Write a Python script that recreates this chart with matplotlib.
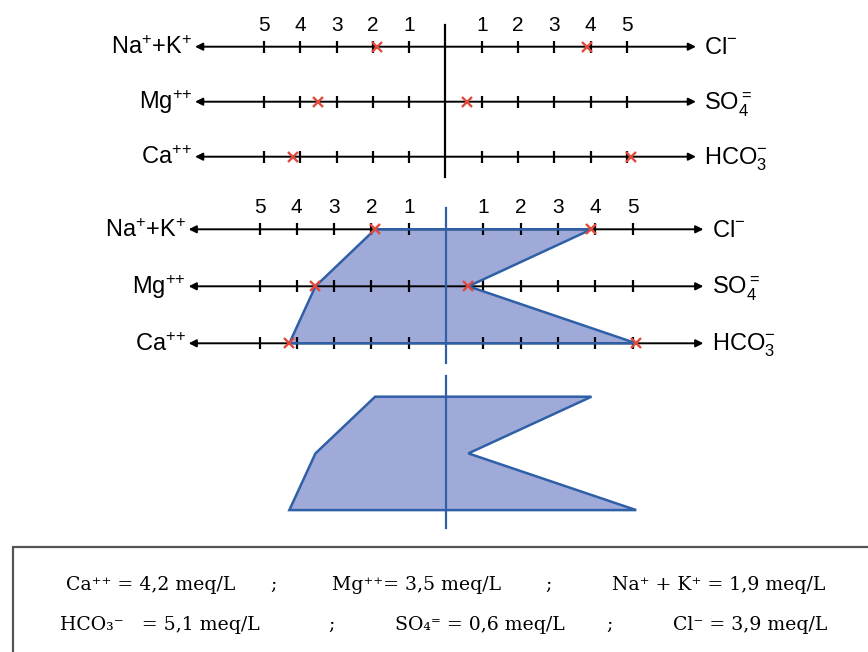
import numpy as np
import matplotlib.pyplot as plt
from matplotlib.patches import Rectangle

plt.rcParams['font.family'] = 'Liberation Sans'
plt.rcParams['mathtext.fontset'] = 'custom'
plt.rcParams['mathtext.rm'] = 'Liberation Sans'
plt.rcParams['mathtext.it'] = 'Liberation Sans:italic'
plt.rcParams['mathtext.bf'] = 'Liberation Sans:bold'
plt.rcParams['mathtext.sf'] = 'Liberation Sans'

# Ion concentrations (meq/L); rows top to bottom
cation_labels = [r'Na$^{+}$+K$^{+}$', r'Mg$^{+\mathrm{+}}$', r'Ca$^{+\mathrm{+}}$']
anion_labels = [r'Cl$^{-}$', r'SO$_{4}^{=}$', r'HCO$_{3}^{-}$']
cations = np.array([1.9, 3.5, 4.2])   # Na+K, Mg, Ca
anions = np.array([3.9, 0.6, 5.1])    # Cl, SO4, HCO3
scale_ticks = np.array([1, 2, 3, 4, 5])

# names used in the summary box
cation_names = ['Na⁺ + K⁺', 'Mg⁺⁺', 'Ca⁺⁺']
anion_names = ['Cl⁻', 'SO₄⁼', 'HCO₃⁻']

W, H = 868, 652
RED = '#e04a3c'
FILL = '#a0aad9'
EDGE = '#2f5fa6'
ARROW_END = 6.9

fig = plt.figure(figsize=(W / 100, H / 100), dpi=100)
rows = np.arange(3)


def panel(top, bottom, center, unit, row0, step):
    # full-width axes; x in meq/L (cations negative), y in row index
    ax = fig.add_axes([0, 1 - bottom / H, 1, (bottom - top) / H])
    ax.set_xlim(-center / unit, (W - center) / unit)
    ax.set_ylim((bottom - row0) / step, (top - row0) / step)
    ax.axis('off')
    return ax


def draw_scales(ax):
    arrow = dict(arrowstyle='-|>', color='black', lw=1.4, mutation_scale=11,
                 shrinkA=0, shrinkB=0)
    for r in rows:
        ax.annotate('', xy=(-ARROW_END, r), xytext=(0, r), arrowprops=arrow, zorder=2)
        ax.annotate('', xy=(ARROW_END, r), xytext=(0, r), arrowprops=arrow, zorder=2)
        ax.plot(-scale_ticks, [r] * len(scale_ticks), '|', color='black', ms=9, mew=1.6, zorder=2)
        ax.plot(scale_ticks, [r] * len(scale_ticks), '|', color='black', ms=9, mew=1.6, zorder=2)
        ax.annotate(cation_labels[r], (-ARROW_END, r), xytext=(-2, -5.5),
                    textcoords='offset points', ha='right', va='baseline', fontsize=17)
        ax.annotate(anion_labels[r], (ARROW_END, r), xytext=(6, -5.5),
                    textcoords='offset points', ha='left', va='baseline', fontsize=17)
    for t in scale_ticks:
        for x in (-t, t):
            ax.annotate(str(t), (x, 0), xytext=(0, 11.5), textcoords='offset points',
                        ha='center', va='baseline', fontsize=15)


def draw_crosses(ax):
    ax.plot(-cations, rows, 'x', color=RED, ms=7.5, mew=1.7, zorder=5)
    ax.plot(anions, rows, 'x', color=RED, ms=7.5, mew=1.7, zorder=5)


def draw_shape(ax):
    xs = [-cations[0], anions[0], anions[1], anions[2], -cations[2], -cations[1]]
    ys = [rows[0], rows[0], rows[1], rows[2], rows[2], rows[1]]
    ax.fill(xs, ys, color=FILL, lw=0, zorder=1)
    ax.fill(xs, ys, fill=False, edgecolor=EDGE, lw=1.8, zorder=3)


# top: scales with plotted values
ax1 = panel(0, 190, 445.5, 36.3, 46.7, 55)
draw_scales(ax1)
ax1.plot([0, 0], [-0.39, 2.37], color='black', lw=1.6, zorder=2)
draw_crosses(ax1)

# middle: values joined into the shape
ax2 = panel(190, 372, 446, 37.3, 229.3, 57)
draw_shape(ax2)
draw_scales(ax2)
ax2.plot([0, 0], [-0.37, 2.35], color=EDGE, lw=1.6, zorder=4)
draw_crosses(ax2)

# bottom: the shape alone
ax3 = panel(372, 545, 446, 37.3, 396.7, 56.7)
draw_shape(ax3)
ax3.plot([0, 0], [-0.37, 2.32], color=EDGE, lw=1.6, zorder=4)

# summary box
box = Rectangle((13 / W, -0.2), 1.2, 0.2 + 1 - 547 / H, transform=fig.transFigure,
                fill=False, edgecolor='#555555', lw=1.6)
fig.add_artist(box)


def meq(v):
    return ('= %.1f meq/L' % v).replace('.', ',')


line1 = [(cation_names[2], ' ', cations[2], 66),
         (cation_names[1], '', cations[1], 332),
         (cation_names[0], ' ', cations[0], 612)]
line2 = [(anion_names[2], '   ', anions[2], 60),
         (anion_names[1], ' ', anions[1], 395),
         (anion_names[0], ' ', anions[0], 673)]

for items, y, semis in ((line1, 590, (270, 545)), (line2, 630, (328, 606))):
    for name, sep, v, x in items:
        fig.text(x / W, 1 - y / H, name + sep + meq(v), family='DejaVu Serif',
                 fontsize=13.6, va='baseline')
    for xs in semis:
        fig.text(xs / W, 1 - y / H, ';', family='DejaVu Serif', fontsize=13.6, va='baseline')

fig.savefig('out.png', dpi=100)
